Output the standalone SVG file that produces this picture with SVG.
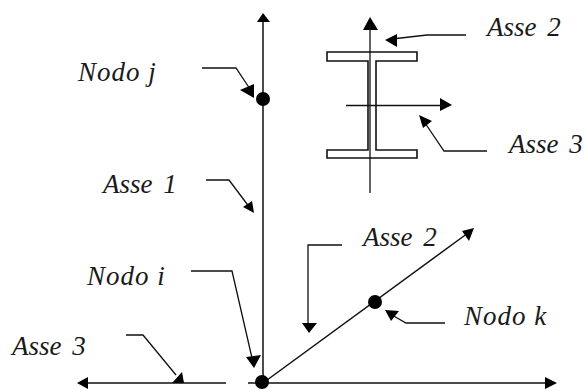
<svg xmlns="http://www.w3.org/2000/svg" width="584" height="389" viewBox="0 0 584 389">
<style>
text{font-family:"Liberation Serif","Times New Roman",serif;font-style:italic;font-size:27px;fill:#1a1a1a}
.a{word-spacing:4px}
.n{letter-spacing:1px}
.l{fill:none;stroke:#111;stroke-width:1.5}
.s{fill:none;stroke:#111;stroke-width:1.3}
.h{fill:#000;stroke:none}
.d{fill:#000}
.p{fill:#fff;stroke:#111;stroke-width:1.6}
</style>
<rect width="584" height="389" fill="#fff"/>
<g id="connectors">
<path class="l" d="M263 20V383"/>
<path class="l" d="M86 383H226M248 383H550"/>
<path class="l" d="M263 383L468 233"/>
<path class="s" d="M466 35H427L392 39"/>
<path class="s" d="M487 151H444L423 120"/>
<path class="s" d="M202 68H236L250 89"/>
<path class="s" d="M206 180H229L250 208"/>
<path class="s" d="M191 271H232L252 358"/>
<path class="s" d="M126 335H143L176 375"/>
<path class="s" d="M342 245H308V325"/>
<path class="s" d="M445 323H406L392 315"/>
<polygon class="h" points="263,13 257,22 270,22"/>
<polygon class="h" points="77,383 88,377 88,389"/>
<polygon class="h" points="557,383 545,377 545,389"/>
<polygon class="h" points="474,228 462,231 469,241"/>
<polygon class="h" points="370,17 363,30 378,30"/>
<polygon class="h" points="452,105 440,98 440,111"/>
<polygon class="h" points="385,40 397,34 397,47"/>
<polygon class="h" points="419,115 432,121 423,128"/>
<polygon class="h" points="254,98 254,84 240,90"/>
<polygon class="h" points="254,213 252,201 243,207"/>
<polygon class="h" points="254,368 246,357 261,355"/>
<polygon class="h" points="184,383 172,383 182,372"/>
<polygon class="h" points="309,333 302,323 317,323"/>
<polygon class="h" points="385,310 399,311 391,321"/>
</g>
<g id="section">
<path class="p" d="M327 52H417V61H376V150H417V158H327V150H368V61H327Z"/>
<path class="s" d="M370 24V193M346 105.500H444"/>
</g>
<g id="nodo-j"><circle class="d" cx="263" cy="99" r="7"/></g>
<g id="nodo-i"><circle class="d" cx="262" cy="382" r="7"/></g>
<g id="nodo-k"><circle class="d" cx="375" cy="302" r="7"/></g>
<g id="labels">
<text class="n" x="78" y="81">Nodo j</text>
<text class="a" x="103" y="193">Asse 1</text>
<text class="n" x="87" y="285">Nodo i</text>
<text class="a" x="12" y="355">Asse 3</text>
<text class="a" x="363" y="246">Asse 2</text>
<text class="n" x="464" y="325">Nodo k</text>
<text class="a" x="487" y="36">Asse 2</text>
<text class="a" x="509" y="153">Asse 3</text>
</g>
</svg>
